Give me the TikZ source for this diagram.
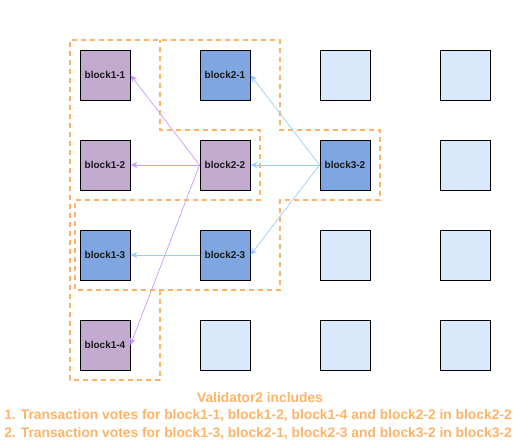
\documentclass[tikz,border=0pt]{standalone}
\usepackage{fontspec}
\setmainfont{Liberation Sans}
\usetikzlibrary{arrows.meta}
\definecolor{purp}{HTML}{C3ABD0}
\definecolor{blu}{HTML}{7EA6E0}
\definecolor{lblu}{HTML}{DAE8FC}
\definecolor{parrow}{HTML}{CC99FF}
\definecolor{barrow}{HTML}{99CCFF}
\definecolor{orng}{HTML}{FFB366}
\tikzset{
  blk/.style={draw=black, line width=0.9pt, minimum width=50pt, minimum height=50pt, inner sep=0pt, font=\bfseries\fontsize{10}{12}\selectfont, text=black!90},
  pblk/.style={blk, fill=purp},
  bblk/.style={blk, fill=blu},
  eblk/.style={blk, fill=lblu},
  parr/.style={draw=parrow, line width=0.7pt, -{Stealth[length=7pt,width=6pt]}},
  barr/.style={draw=barrow, line width=0.7pt, -{Stealth[length=7pt,width=6pt]}},
  region/.style={draw=orng, line width=1.6pt, dash pattern=on 5pt off 4pt},
  note/.style={text=orng, font=\bfseries\fontsize{13.8}{15}\selectfont, inner sep=0pt}
}
\begin{document}
\begin{tikzpicture}[x=1pt, y=-1pt]
\useasboundingbox (0,0) rectangle (520,440);
% regions
\draw[region] (160,290) -- (160,380) -- (70,380) -- (70,40) -- (280,40) -- (280,130) -- (380,130) -- (380,200) -- (280,200) -- (280,290) -- (75,290) -- (75,200) -- (260,200) -- (260,130) -- (160,130) -- (160,40);
% blocks
\node[pblk] (b11) at (105,75) {block1-1};
\node[bblk] (b21) at (225,75) {block2-1};
\node[eblk] (b31) at (345,75) {};
\node[eblk] (b41) at (465,75) {};
\node[pblk] (b12) at (105,165) {block1-2};
\node[pblk] (b22) at (225,165) {block2-2};
\node[bblk] (b32) at (345,165) {block3-2};
\node[eblk] (b42) at (465,165) {};
\node[bblk] (b13) at (105,255) {block1-3};
\node[bblk] (b23) at (225,255) {block2-3};
\node[eblk] (b33) at (345,255) {};
\node[eblk] (b43) at (465,255) {};
\node[pblk] (b14) at (105,345) {block1-4};
\node[eblk] (b24) at (225,345) {};
\node[eblk] (b34) at (345,345) {};
\node[eblk] (b44) at (465,345) {};
% arrows
\draw[parr] (b22.west) -- (b11.east);
\draw[parr] (b22.west) -- (b12.east);
\draw[parr] (b22.west) -- (b14.east);
\draw[barr] (b32.west) -- (b21.east);
\draw[barr] (b32.west) -- (b22.east);
\draw[barr] (b32.west) -- (b23.east);
\draw[barr] (b23.west) -- (b13.east);
% notes
\node[note] (t1) at (260,398) {Validator2 includes};
\node[note] (t2) at (258,416) {1. Transaction votes for block1-1, block1-2, block1-4 and block2-2 in block2-2};
\node[note] (t3) at (258,434) {2. Transaction votes for block1-3, block2-1, block2-3 and block3-2 in block3-2};
\end{tikzpicture}
\end{document}
